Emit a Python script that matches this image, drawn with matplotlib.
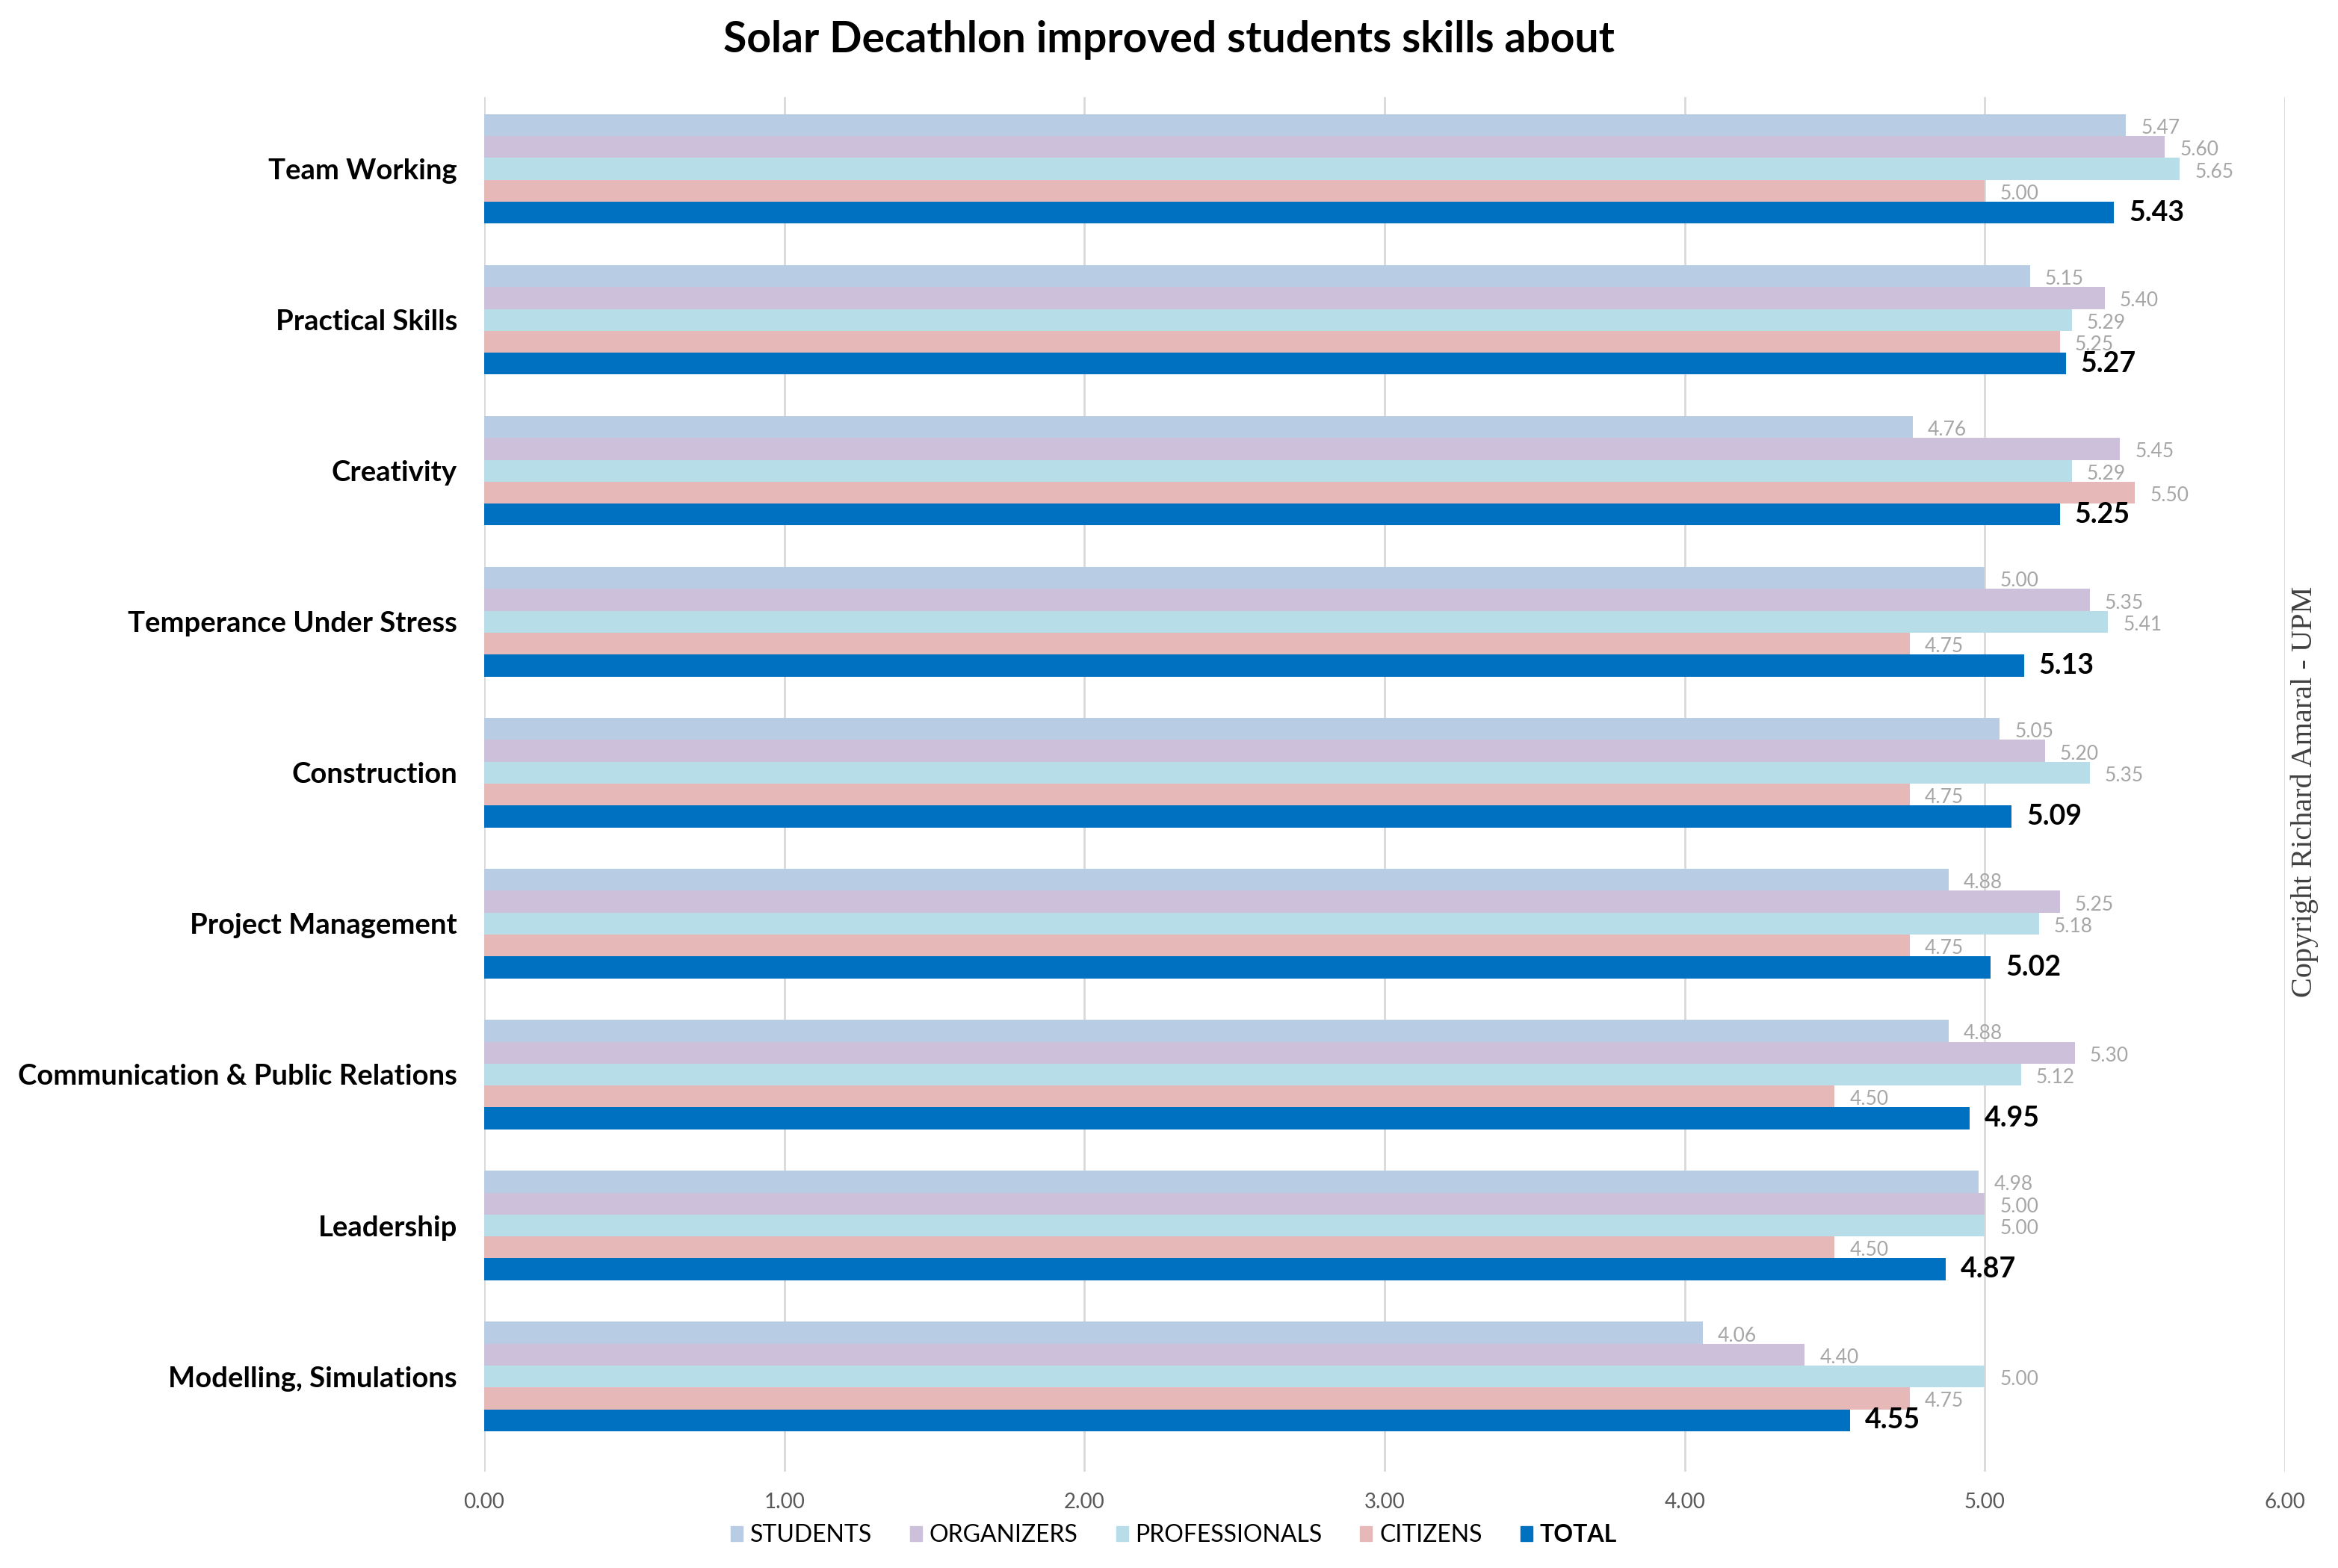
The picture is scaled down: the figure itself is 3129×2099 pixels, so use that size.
"""Horizontal grouped bars: skills improved by Solar Decathlon, per respondent group."""

import numpy as np
from matplotlib import pyplot as plt
from matplotlib.patches import Patch

CATEGORIES = [
    "Team Working",
    "Practical Skills",
    "Creativity",
    "Temperance Under Stress",
    "Construction",
    "Project Management",
    "Communication & Public Relations",
    "Leadership",
    "Modelling, Simulations",
]
SERIES = ["STUDENTS", "ORGANIZERS", "PROFESSIONALS", "CITIZENS", "TOTAL"]

students = [5.47, 5.15, 4.76, 5.00, 5.05, 4.88, 4.88, 4.98, 4.06]
organizers = [5.60, 5.40, 5.45, 5.35, 5.20, 5.25, 5.30, 5.00, 4.40]
professionals = [5.65, 5.29, 5.29, 5.41, 5.35, 5.18, 5.12, 5.00, 5.00]
citizens = [5.00, 5.25, 5.50, 4.75, 4.75, 4.75, 4.50, 4.50, 4.75]
total = [5.43, 5.27, 5.25, 5.13, 5.09, 5.02, 4.95, 4.87, 4.55]

COLORS = ["#b8cce4", "#ccc0da", "#b7dee8", "#e6b9b8", "#0070c0"]
FONT = "Lato"


def main():
    """Plot figure."""
    plt.rcParams["font.family"] = [FONT, "DejaVu Sans"]
    fig = plt.figure(figsize=(31.29, 20.99), dpi=100)
    ax = fig.add_axes([0.2071, 0.0615, 0.7702, 0.8765])

    values = [students, organizers, professionals, citizens, total]
    pos = np.arange(len(CATEGORIES))
    h = 0.145

    for i, (name, vals, col) in enumerate(zip(SERIES, values, COLORS)):
        y = pos + (i - 2) * h
        ax.barh(y, vals, height=h, color=col, zorder=2, label=name)
        for yy, v in zip(y, vals):
            if name == "TOTAL":
                ax.text(v + 0.05, yy, f"{v:.2f}", va="center", ha="left",
                        fontsize=27, fontweight="bold", color="black")
            else:
                ax.text(v + 0.05, yy + 0.02, f"{v:.2f}", va="center", ha="left",
                        fontsize=19, color="#a6a6a6")

    ax.set_xlim(0, 6)
    ax.set_ylim(8.63, -0.475)
    ax.set_xticks(np.arange(0, 7), labels=[f"{x:.2f}" for x in range(7)])
    ax.set_yticks(pos, labels=CATEGORIES)
    ax.tick_params(axis="x", length=0, labelsize=20, labelcolor="#595959", pad=20)
    ax.tick_params(axis="y", length=0, labelsize=27.5, pad=26)
    for lab in ax.get_yticklabels():
        lab.set_fontweight("bold")
    for s in ax.spines.values():
        s.set_visible(False)
    ax.grid(axis="x", color="#d9d9d9", linewidth=2, zorder=0)

    fig.suptitle("Solar Decathlon improved students skills about",
                 x=0.5, y=0.987, fontsize=41, fontweight="bold", va="top")

    handles = [Patch(color=c) for c in COLORS]
    leg = fig.legend(handles, SERIES, loc="center", bbox_to_anchor=(0.502, 0.021),
                     ncol=5, frameon=False, fontsize=23, handlelength=0.5,
                     handleheight=0.6, handletextpad=0.3, columnspacing=1.6)
    leg.get_texts()[-1].set_fontweight("bold")

    fig.text(0.9856, 0.495, "Copyright Richard Amaral - UPM", rotation=90,
             ha="center", va="center", fontsize=29, family="Liberation Serif",
             color="#404040")

    fig.savefig("out.png", dpi=100)


if __name__ == "__main__":
    main()
